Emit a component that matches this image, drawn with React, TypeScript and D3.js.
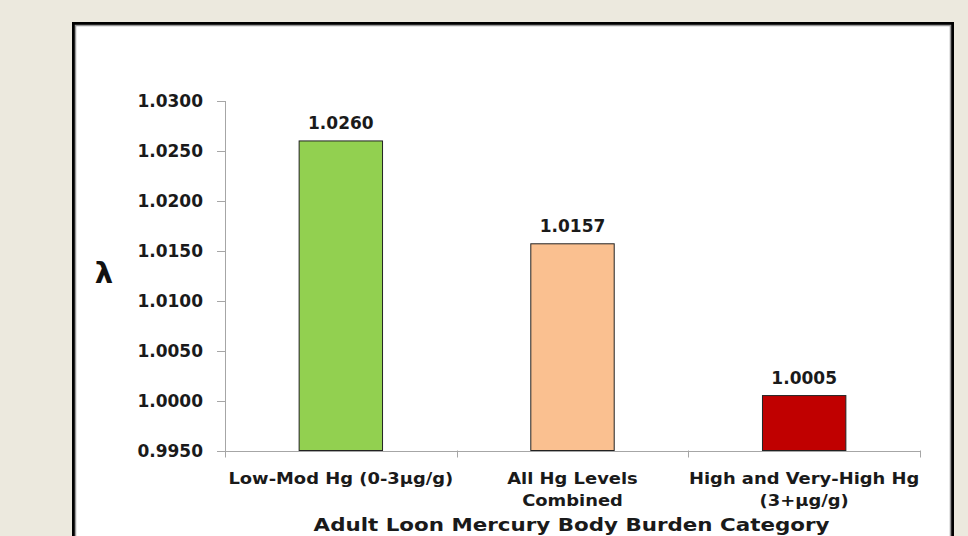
import React from "react";
import * as d3 from "d3";

const categories: string[][] = [
  ["Low-Mod Hg (0-3µg/g)"],
  ["All Hg Levels", "Combined"],
  ["High and Very-High Hg", "(3+µg/g)"],
];
const categoryKeys = ["low", "all", "high"];
const values = [1.026, 1.0157, 1.0005];
const valueLabels = ["1.0260", "1.0157", "1.0005"];
const barColors = ["#92D050", "#FAC090", "#C00000"];
const yTicks = [0.995, 1.0, 1.005, 1.01, 1.015, 1.02, 1.025, 1.03];
const yTitle = "λ";
const xTitle = "Adult Loon Mercury Body Burden Category";

const W = 968;
const H = 536;
const plotLeft = 225;
const plotRight = 920;
const plotTop = 101;
const plotBottom = 450.5;
const FONT = "'DejaVu Sans', Verdana, sans-serif";
const AXIS = "#A6A6A6";

export default function App() {
  const x = d3.scaleBand<string>().domain(categoryKeys).range([plotLeft, plotRight]).paddingInner(0.64).paddingOuter(0.32);
  const xOuter = d3.scaleBand<string>().domain(categoryKeys).range([plotLeft, plotRight]);
  const y = d3.scaleLinear().domain([0.995, 1.03]).range([plotBottom, plotTop]);
  const fmt = d3.format(".4f");

  const boundaries = [plotLeft, ...categoryKeys.map((k) => (xOuter(k) as number) + xOuter.bandwidth())];

  return (
    <svg width={W} height={H} style={{ position: "fixed", left: 0, top: 0, display: "block" }}>
      <rect x={0} y={0} width={W} height={H} fill="#ECE9DE" />
      {/* frame */}
      <rect x={73.5} y={23.5} width={879} height={H} fill="#FFFFFF" stroke="#000" strokeWidth={3} />
      <rect x={75.5} y={25.5} width={875} height={H} fill="none" stroke="#9A9A9A" strokeWidth={1.5} />

      {/* y axis */}
      <line x1={plotLeft + 0.5} x2={plotLeft + 0.5} y1={plotTop} y2={plotBottom + 6} stroke={AXIS} strokeWidth={1} />
      {yTicks.map((t) => (
        <g key={t}>
          <line x1={plotLeft - 8} x2={plotLeft} y1={Math.round(y(t)) + 0.5} y2={Math.round(y(t)) + 0.5} stroke={AXIS} strokeWidth={1} />
          <text x={203} y={y(t) + 6} textAnchor="end" fontFamily={FONT} fontWeight="bold" fontSize={17} fill="#1a1a1a">
            {fmt(t)}
          </text>
        </g>
      ))}

      {/* x axis */}
      <line x1={plotLeft} x2={plotRight + 0.5} y1={Math.round(plotBottom) + 0.5} y2={Math.round(plotBottom) + 0.5} stroke={AXIS} strokeWidth={1} />
      {boundaries.map((b, i) => (
        <line key={i} x1={Math.round(b) + 0.5} x2={Math.round(b) + 0.5} y1={plotBottom} y2={plotBottom + 7} stroke={AXIS} strokeWidth={1} />
      ))}

      {/* bars */}
      {categoryKeys.map((k, i) => {
        const cx = (xOuter(k) as number) + xOuter.bandwidth() / 2;
        return (
          <g key={k}>
            <rect
              x={x(k) as number}
              y={y(values[i])}
              width={x.bandwidth()}
              height={y(0.995) - y(values[i])}
              fill={barColors[i]}
              stroke="#222"
              strokeWidth={1}
            />
            <text
              x={(x(k) as number) + x.bandwidth() / 2}
              y={y(values[i]) - 12}
              textAnchor="middle"
              fontFamily={FONT}
              fontWeight="bold"
              fontSize={17}
              fill="#1a1a1a"
            >
              {valueLabels[i]}
            </text>
            {categories[i].map((line, j) => (
              <text
                key={j}
                transform={`translate(${cx},${484 + j * 22}) scale(1.12,1)`}
                textAnchor="middle"
                fontFamily={FONT}
                fontWeight="bold"
                fontSize={16}
                fill="#1a1a1a"
              >
                {line}
              </text>
            ))}
          </g>
        );
      })}

      {/* titles */}
      <text x={104} y={283} textAnchor="middle" fontFamily={FONT} fontWeight="bold" fontSize={29} fill="#111">
        {yTitle}
      </text>
      <text
        transform={`translate(${(plotLeft + plotRight) / 2 - 1},531) scale(1.17,1)`}
        textAnchor="middle"
        fontFamily={FONT}
        fontWeight="bold"
        fontSize={18.3}
        fill="#1a1a1a"
      >
        {xTitle}
      </text>
    </svg>
  );
}
